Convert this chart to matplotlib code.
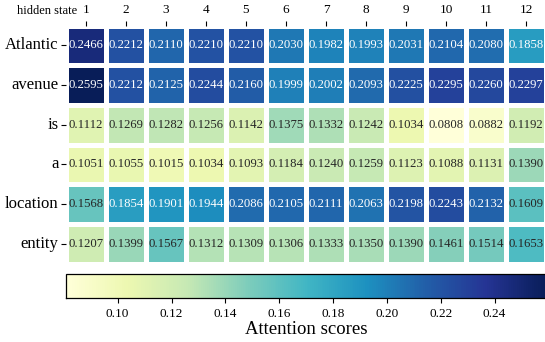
import numpy as np
import matplotlib
matplotlib.use("Agg")
import matplotlib.pyplot as plt
import seaborn as sns

plt.rcParams['font.family'] = ['Liberation Serif', 'DejaVu Serif']

# token rows and hidden-state columns
tokens = ["Atlantic", "avenue", "is", "a", "location", "entity"]
layers = [str(i) for i in range(1, 13)]

atlantic = [0.2466, 0.2212, 0.2110, 0.2210, 0.2210, 0.2030, 0.1982, 0.1993, 0.2031, 0.2104, 0.2080, 0.1858]
avenue = [0.2595, 0.2212, 0.2125, 0.2244, 0.2160, 0.1999, 0.2002, 0.2093, 0.2225, 0.2295, 0.2260, 0.2297]
is_ = [0.1112, 0.1269, 0.1282, 0.1256, 0.1142, 0.1375, 0.1332, 0.1242, 0.1034, 0.0808, 0.0882, 0.1192]
a_ = [0.1051, 0.1055, 0.1015, 0.1034, 0.1093, 0.1184, 0.1240, 0.1259, 0.1123, 0.1088, 0.1131, 0.1390]
location = [0.1568, 0.1854, 0.1901, 0.1944, 0.2086, 0.2105, 0.2111, 0.2063, 0.2198, 0.2243, 0.2132, 0.1609]
entity = [0.1207, 0.1399, 0.1567, 0.1312, 0.1309, 0.1306, 0.1333, 0.1350, 0.1390, 0.1461, 0.1514, 0.1653]

scores = np.array([atlantic, avenue, is_, a_, location, entity])

fig = plt.figure(figsize=(5.45, 3.42), dpi=100)
ax = fig.add_axes([0.1211, 0.2295, 0.8807, 0.6959])
cax = fig.add_axes([0.1211, 0.1287, 0.8826, 0.0702])

sns.heatmap(scores, ax=ax, cbar_ax=cax, cmap="YlGnBu", annot=True, fmt=".4f",
            annot_kws={"fontsize": 9.2}, linewidths=2.2, linecolor="white",
            xticklabels=layers, yticklabels=tokens,
            cbar_kws={"orientation": "horizontal"})

ax.xaxis.tick_top()
ax.tick_params(axis='x', labelsize=9.5, length=3.5, width=0.8, pad=3)
ax.tick_params(axis='y', labelsize=12, length=3.5, width=0.8, rotation=0, pad=2)
fig.text(77 / 545, 1 - 14.5 / 342, "hidden state", ha='right', va='baseline', fontsize=9)

cbar = ax.collections[0].colorbar
cbar.set_ticks([0.10, 0.12, 0.14, 0.16, 0.18, 0.20, 0.22, 0.24])
cbar.ax.tick_params(labelsize=9.5, length=3.5, width=0.8)
cbar.outline.set_visible(True)
cbar.outline.set_edgecolor("black")
cbar.outline.set_linewidth(0.9)
cbar.set_label("Attention scores", fontsize=13.5, labelpad=1)

fig.savefig("out.png", dpi=100)
